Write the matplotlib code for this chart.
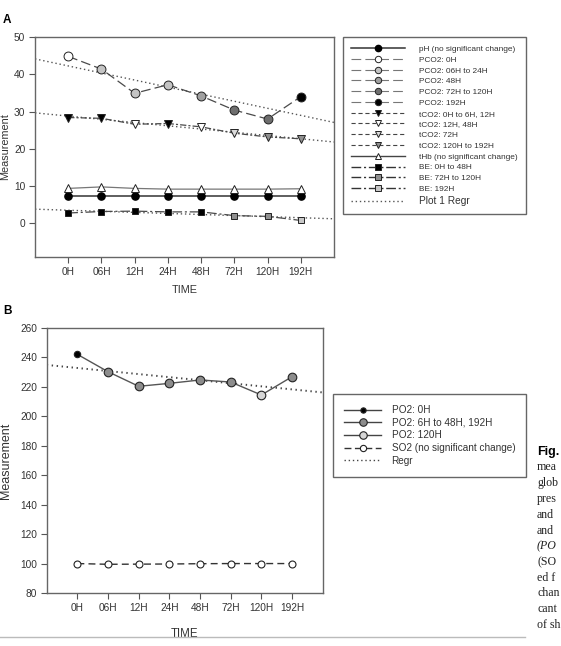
import numpy as np
import matplotlib
matplotlib.use('Agg')
import matplotlib.pyplot as plt
from matplotlib.lines import Line2D

plt.rcParams['font.family'] = ['Liberation Sans', 'DejaVu Sans']
plt.rcParams['lines.scale_dashes'] = False

# ---------------- data ----------------
times = ['0H', '06H', '12H', '24H', '48H', '72H', '120H', '192H']

ph = [7.4, 7.4, 7.4, 7.4, 7.4, 7.4, 7.4, 7.4]
pco2 = [44.8, 41.4, 34.9, 37.2, 34.2, 30.4, 28.0, 34.0]
tco2 = [28.4, 28.2, 26.6, 26.8, 25.9, 24.2, 23.2, 22.7]
thb = [9.4, 9.8, 9.4, 9.2, 9.2, 9.2, 9.2, 9.3]
be = [2.8, 3.2, 3.3, 3.1, 3.1, 2.1, 1.9, 0.8]

pco2_groups = [[0], [1, 2, 3], [4], [5, 6], [7]]
tco2_groups = [[0, 1, 3], [2, 4], [5], [6, 7]]
be_groups = [[0, 1, 2, 3, 4], [5, 6], [7]]

po2 = [242.1, 230.3, 220.4, 222.4, 224.7, 223.3, 214.5, 226.9]
so2 = [100.0, 99.5, 99.6, 99.7, 99.9, 100.0, 100.0, 100.0]
po2_groups = [[0], [1, 2, 3, 4, 5, 7], [6]]

labels_a = ['pH (no significant change)', 'PCO2: 0H', 'PCO2: 06H to 24H', 'PCO2: 48H',
            'PCO2: 72H to 120H', 'PCO2: 192H', 'tCO2: 0H to 6H, 12H', 'tCO2: 12H, 48H',
            'tCO2: 72H', 'tCO2: 120H to 192H', 'tHb (no significant change)',
            'BE: 0H to 48H', 'BE: 72H to 120H', 'BE: 192H', 'Plot 1 Regr']
labels_b = ['PO2: 0H', 'PO2: 6H to 48H, 192H', 'PO2: 120H',
            'SO2 (no significant change)', 'Regr']

# visible fragments of the caption at the right edge
cap_lines = ['mea', 'glob', 'pres', 'and', 'and', '(PO', '(SO', 'ed f', 'chan', 'cant', 'of sh']

# ---------------- styles ----------------
pco2_cols = ['white', '#c4c4c4', '#a0a0a0', '#6e6e6e', 'black']
tco2_cols = ['black', 'white', '#dcdcdc', '#909090']
be_cols = ['black', '#909090', '#c8c8c8']
po2_cols = ['black', '#8c8c8c', '#d6d6d6']
po2_ms = [4.6, 6.2, 6.2]

ls_pco2 = (0, (7, 3))
ls_tco2 = (0, (4.5, 1.5, 1.5, 1.5))
ls_be = (0, (7, 2, 1.5, 2))
ls_regr = (0, (1, 2))
ls_so2 = (0, (5, 3))
line_col = '#4a4a4a'
edge = '#222222'

fig = plt.figure(figsize=(5.61, 6.46), dpi=100)
W, H = 561, 646
axA = fig.add_axes([35 / W, 1 - 257 / H, 299 / W, 220 / H])
axB = fig.add_axes([46.7 / W, 1 - 593 / H, 276 / W, 265 / H])

x = np.arange(len(times))


def regr(ax, yv, ls, lw, col):
    k, b = np.polyfit(x, yv, 1)
    xr = np.array(ax.get_xlim())
    ax.plot(xr, k * xr + b, linestyle=ls, color=col, lw=lw, zorder=1)


# ---------------- panel A ----------------
axA.set_xlim(-1, 8)
axA.set_ylim(-9, 50)

regr(axA, pco2, ls_regr, 1.0, '#555555')
regr(axA, tco2, ls_regr, 1.0, '#555555')
regr(axA, be, ls_regr, 1.0, '#555555')

handles_a = []
# pH
axA.plot(x, ph, color='#333333', lw=1.1, zorder=2)
axA.plot(x, ph, ls='none', marker='o', ms=5.2, mfc='black', mec='black', zorder=3)
handles_a.append(Line2D([], [], color='#333333', lw=1.1, marker='o', ms=4.5, mfc='black', mec='black'))
# PCO2
axA.plot(x, pco2, color=line_col, lw=0.9, ls=ls_pco2, zorder=2)
for g, c in zip(pco2_groups, pco2_cols):
    axA.plot(x[g], np.array(pco2)[g], ls='none', marker='o', ms=6.4, mfc=c, mec=edge, mew=0.7, zorder=3)
    handles_a.append(Line2D([], [], color='#777777', lw=0.8, ls=ls_pco2, marker='o', ms=4.6,
                            mfc=c, mec=edge, mew=0.7))
# tCO2
axA.plot(x, tco2, color=line_col, lw=0.9, ls=ls_tco2, zorder=2)
for g, c in zip(tco2_groups, tco2_cols):
    axA.plot(x[g], np.array(tco2)[g], ls='none', marker='v', ms=5.4, mfc=c, mec=edge, mew=0.7, zorder=3)
    handles_a.append(Line2D([], [], color='#444444', lw=0.8, ls=(0, (3, 2)), marker='v', ms=4.6,
                            mfc=c, mec=edge, mew=0.7))
# tHb
axA.plot(x, thb, color='#777777', lw=0.9, zorder=2)
axA.plot(x, thb, ls='none', marker='^', ms=5.4, mfc='white', mec=edge, mew=0.7, zorder=3)
handles_a.append(Line2D([], [], color='#444444', lw=1.0, marker='^', ms=4.3, mfc='white', mec=edge, mew=0.7))
# BE
axA.plot(x, be, color=line_col, lw=0.9, ls=ls_be, zorder=2)
for g, c in zip(be_groups, be_cols):
    axA.plot(x[g], np.array(be)[g], ls='none', marker='s', ms=4.8, mfc=c, mec=edge, mew=0.7, zorder=3)
    handles_a.append(Line2D([], [], color='#333333', lw=1.0, ls=ls_be, marker='s', ms=4.3,
                            mfc=c, mec=edge, mew=0.7))
handles_a.append(Line2D([], [], color='#555555', lw=1.0, ls=ls_regr))

axA.set_xticks(x, times)
axA.set_yticks(np.arange(0, 51, 10))
axA.set_xlabel('TIME', fontsize=7.8, color='#333333', labelpad=6)

# ---------------- panel B ----------------
axB.set_xlim(-1, 8)
axB.set_ylim(80, 260)
regr(axB, po2, (0, (1, 2.6)), 1.4, '#444444')

axB.plot(x, po2, color='#555555', lw=1.0, zorder=2)
handles_b = []
for g, c, m in zip(po2_groups, po2_cols, po2_ms):
    axB.plot(x[g], np.array(po2)[g], ls='none', marker='o', ms=m, mfc=c, mec=edge, mew=0.8, zorder=3)
    handles_b.append(Line2D([], [], color='#444444', lw=1.0, marker='o', ms=m - 0.8, mfc=c, mec=edge, mew=0.8))
axB.plot(x, so2, color='#333333', lw=1.0, ls=ls_so2, zorder=2)
axB.plot(x, so2, ls='none', marker='o', ms=5.0, mfc='white', mec=edge, mew=0.8, zorder=3)
handles_b.append(Line2D([], [], color='#333333', lw=1.0, ls=(0, (5, 2.5)), marker='o', ms=4.5,
                        mfc='white', mec=edge, mew=0.8))
handles_b.append(Line2D([], [], color='#444444', lw=1.0, ls=ls_regr))

axB.set_xticks(x, times)
axB.set_yticks(np.arange(80, 261, 20))
axB.set_xlabel('TIME', fontsize=8.3, color='#333333', labelpad=11)

for ax in (axA, axB):
    for s in ax.spines.values():
        s.set_color('#666666')
        s.set_linewidth(1.0)
    ax.tick_params(direction='out', length=4, width=0.8, color='#555555',
                   labelsize=7.3, labelcolor='#333333', pad=3)

# y labels
fig.text(5 / W, 1 - 147 / H, 'Measurement', rotation=90, va='center', ha='center',
         fontsize=7.8, color='#333333')
fig.text(6 / W, 1 - 460.5 / H, 'Measurement', rotation=90, va='center', ha='center',
         fontsize=9, color='#333333')

# panel letters
fig.text(3 / W, 1 - 20 / H, 'A', fontweight='bold', fontsize=8.5, va='center')
fig.text(3 / W, 1 - 310.5 / H, 'B', fontweight='bold', fontsize=8.5, va='center')

# legends
legA = fig.legend(handles_a, labels_a, loc='upper left', bbox_to_anchor=(343 / W, 1 - 37 / H),
                  bbox_transform=fig.transFigure, borderaxespad=0, fontsize=5.95,
                  handlelength=6.5, handletextpad=1.65, labelspacing=0.36, borderpad=1.0,
                  frameon=True, fancybox=False, edgecolor='#666666', framealpha=1, numpoints=1)
legA.get_frame().set_linewidth(1.0)
for t in legA.get_texts():
    t.set_color('#333333')
legA.get_texts()[-1].set_fontsize(7.3)

legB = fig.legend(handles_b, labels_b, loc='upper left', bbox_to_anchor=(333 / W, 1 - 394 / H),
                  bbox_transform=fig.transFigure, borderaxespad=0, fontsize=7.2,
                  handlelength=3.7, handletextpad=1.06, labelspacing=0.27, borderpad=1.1,
                  frameon=True, fancybox=False, edgecolor='#666666', framealpha=1, numpoints=1)
legB.get_frame().set_linewidth(1.0)
for t in legB.get_texts():
    t.set_color('#333333')

# caption fragment at right edge
fig.text(537 / W, 1 - 452.3 / H, 'Fig.', fontweight='bold', fontsize=9.0, va='center')
cap_y = [467.3, 482.7, 499, 515, 531, 546.7, 562.3, 577.7, 593.3, 609.3, 625.3]
for i, (s, yy) in enumerate(zip(cap_lines, cap_y)):
    fig.text(537 / W, 1 - yy / H, s, family=['Liberation Serif', 'DejaVu Serif'], fontsize=8.6,
             va='center', color='#222222', style='italic' if i == 5 else 'normal')

fig.add_artist(Line2D([0, 525 / W], [1 - 637 / H, 1 - 637 / H], transform=fig.transFigure,
                      color='#bbbbbb', lw=1.0))

fig.savefig('out.png', dpi=100)
